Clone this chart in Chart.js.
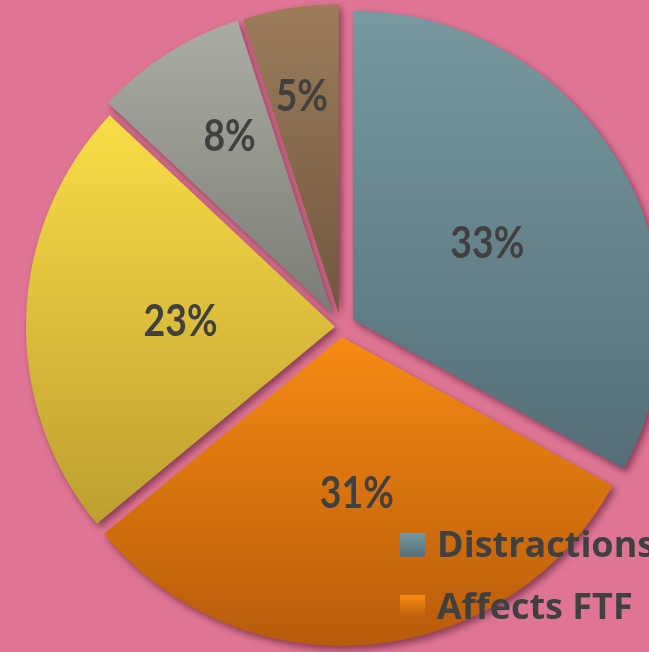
<!DOCTYPE html>
<html>
<head>
  <meta charset="UTF-8">
  <title>Pie</title>
  <script src="https://cdn.jsdelivr.net/npm/chart.js@4/dist/chart.umd.min.js"></script>
  <style>
    body { margin: 0; background: #df7595; overflow: hidden; }
    canvas { display: block; }
  </style>
</head>
<body>
  <canvas id="chartPie" width="649" height="652"></canvas>

  <script>
    // only the first two legend names are visible in the picture
    const categories = ["Distractions", "Affects FTF", "", "", ""];
    const values = [33, 31, 23, 8, 5];

    const topColors = ["#78999f", "#f68b12", "#f9dd46", "#abaca3", "#9c7c59"];
    const bottomColors = ["#556e77", "#b85b0b", "#bd9f30", "#7c7c76", "#705740"];
    const explode = [14, 10, 6, 15, 14];
    const labelAt = [0.5, 0.51, 0.5, 0.665, 0.71];
    const labelTurn = [1, 0, 0, 2.2, -0.7]; // degrees, clockwise
    const R = 309;
    const total = values.reduce((s, v) => s + v, 0);

    function sliceGradient(c) {
      const chart = c.chart, area = chart.chartArea, i = c.dataIndex;
      if (!area) return topColors[i];
      let start = -Math.PI / 2;
      for (let k = 0; k < i; k++) start += values[k] / total * 2 * Math.PI;
      const end = start + values[i] / total * 2 * Math.PI;
      const mid = (start + end) / 2;
      const cy = (area.top + area.bottom) / 2 + Math.sin(mid) * explode[i];
      const ys = [cy];
      for (let t = 0; t <= 30; t++) ys.push(cy + R * Math.sin(start + (end - start) * t / 30));
      const g = chart.ctx.createLinearGradient(0, Math.min(...ys), 0, Math.max(...ys));
      g.addColorStop(0, topColors[i]);
      g.addColorStop(1, bottomColors[i]);
      return g;
    }

    // pull each slice out along its middle angle
    const explodePlugin = {
      id: "explode",
      afterDatasetsUpdate(chart) {
        chart.getDatasetMeta(0).data.forEach((arc, i) => {
          const mid = (arc.startAngle + arc.endAngle) / 2;
          arc.x += Math.cos(mid) * explode[i];
          arc.y += Math.sin(mid) * explode[i];
        });
      }
    };

    const shadowPlugin = {
      id: "shadow",
      beforeDatasetsDraw(chart) {
        const ctx = chart.ctx;
        ctx.save();
        ctx.shadowColor = "rgba(70, 15, 35, 0.55)";
        ctx.shadowBlur = 7;
        ctx.shadowOffsetX = 3;
        ctx.shadowOffsetY = 4;
      },
      afterDatasetsDraw(chart) {
        chart.ctx.restore();
      }
    };

    const labelPlugin = {
      id: "labels",
      afterDraw(chart) {
        const ctx = chart.ctx;
        ctx.save();
        ctx.font = "bold 44px Lato";
        ctx.fillStyle = "#404040";
        ctx.textAlign = "center";
        ctx.textBaseline = "middle";
        chart.getDatasetMeta(0).data.forEach((arc, i) => {
          const mid = (arc.startAngle + arc.endAngle) / 2 + labelTurn[i] * Math.PI / 180;
          const r = arc.outerRadius * labelAt[i];
          ctx.save();
          ctx.translate(arc.x + Math.cos(mid) * r, arc.y + Math.sin(mid) * r);
          ctx.scale(0.85, 1);
          ctx.fillText(Math.round(values[i] / total * 100) + "%", 0, 0);
          ctx.restore();
        });

        // legend, bottom right
        ctx.font = "bold 36px 'Open Sans'";
        ctx.textAlign = "left";
        ctx.textBaseline = "alphabetic";
        categories.forEach((name, i) => {
          if (!name) return;
          const y = 533 + i * 62;
          const g = ctx.createLinearGradient(0, y, 0, y + 24);
          g.addColorStop(0, topColors[i]);
          g.addColorStop(1, bottomColors[i]);
          ctx.fillStyle = g;
          ctx.fillRect(400, y, 25, 24);
          ctx.fillStyle = "#404040";
          ctx.fillText(name, 437, y + 24);
        });
        ctx.restore();
      }
    };

    const chartPie = new Chart(document.getElementById("chartPie"), {
      type: "pie",
      data: {
        labels: categories,
        datasets: [{
          data: values,
          backgroundColor: sliceGradient,
          borderWidth: 0,
          radius: R,
          clip: false
        }]
      },
      options: {
        responsive: false,
        animation: false,
        events: [],
        layout: { padding: { left: 33, right: 0, top: 2, bottom: 0 } },
        plugins: { legend: { display: false }, tooltip: { enabled: false } }
      },
      plugins: [explodePlugin, shadowPlugin, labelPlugin]
    });
  </script>
</body>
</html>
